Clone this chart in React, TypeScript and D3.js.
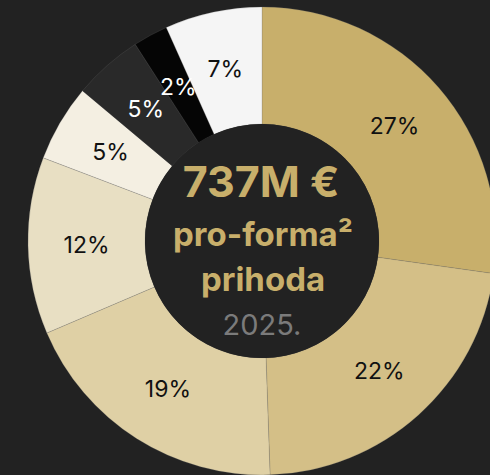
import * as d3 from "d3";

// slice shares, clockwise from 12 o'clock
const segments = ["a", "b", "c", "d", "e", "f", "g", "h"];
const shares = [27.2, 22.2, 19.1, 12.2, 5.3, 4.8, 2.4, 6.7];
const labels = ["27%", "22%", "19%", "12%", "5%", "5%", "2%", "7%"];
const fills = [
  "#c8af6b",
  "#d4bf87",
  "#dfd0a5",
  "#e8dfc3",
  "#f4efe2",
  "#292929",
  "#050505",
  "#f5f5f5",
];
const labelColors = ["#111", "#111", "#111", "#111", "#111", "#fff", "#fff", "#111"];

const centerLines = ["737M €", "pro-forma²", "prihoda", "2025."];

const W = 490;
const H = 475;
const cx = 262;
const cy = 241;
const outerR = 234;
const innerR = 117;

export default function App() {
  const pie = d3
    .pie<number>()
    .value((d) => d)
    .sort(null);
  const arcs = pie(shares);

  const arc = d3
    .arc<d3.PieArcDatum<number>>()
    .innerRadius(innerR)
    .outerRadius(outerR);

  const labelArc = d3
    .arc<d3.PieArcDatum<number>>()
    .innerRadius((innerR + outerR) / 2)
    .outerRadius((innerR + outerR) / 2);

  return (
    <svg
      width={W}
      height={H}
      style={{ position: "fixed", left: 0, top: 0, background: "#222222" }}
      fontFamily="Inter, 'Noto Sans', sans-serif"
    >
      <rect width={W} height={H} fill="#222222" />
      <g transform={`translate(${cx},${cy})`}>
        {arcs.map((a, i) => (
          <path
            key={segments[i]}
            d={arc(a) ?? ""}
            fill={fills[i]}
            stroke="rgba(110,110,110,0.45)"
            strokeWidth={0.5}
          />
        ))}
        <circle r={innerR} fill="#222222" />
        {arcs.map((a, i) => {
          const [x, y] = labelArc.centroid(a);
          return (
            <text
              key={"l" + segments[i]}
              x={x}
              y={y}
              textAnchor="middle"
              dominantBaseline="central"
              fontSize={23}
              fontWeight={400}
              fill={labelColors[i]}
            >
              {labels[i]}
            </text>
          );
        })}
        <text x={-1} y={-44} textAnchor="middle" fontSize={43} fontWeight={700} fill="#c8af6b">
          {centerLines[0]}
        </text>
        <text x={1} y={5} textAnchor="middle" fontSize={33} fontWeight={700} fill="#c8af6b">
          {centerLines[1]}
        </text>
        <text x={1} y={50} textAnchor="middle" fontSize={33} fontWeight={700} fill="#c8af6b">
          {centerLines[2]}
        </text>
        <text x={0} y={94} textAnchor="middle" fontSize={29} fontWeight={400} fill="#7b7b7b">
          {centerLines[3]}
        </text>
      </g>
    </svg>
  );
}
